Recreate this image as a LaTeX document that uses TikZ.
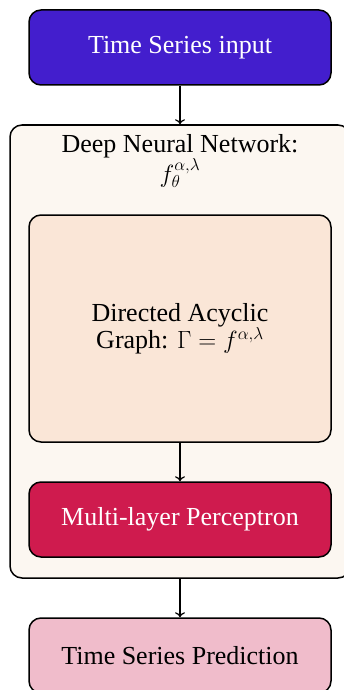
\documentclass[tikz,border=0pt]{standalone}
\usepackage{fontspec}
\setmainfont{Liberation Serif}
\usetikzlibrary{arrows.meta}
\definecolor{inblue}{RGB}{67,30,205}
\definecolor{outerbg}{RGB}{252,247,241}
\definecolor{dagbg}{RGB}{250,230,215}
\definecolor{mlpred}{RGB}{207,27,78}
\definecolor{predpink}{RGB}{240,188,203}
\tikzset{
  txt/.style={font=\fontsize{26}{27}\selectfont},
  box/.style={draw=black, line width=1.5pt, rounded corners=12pt, minimum width=302pt, align=center, txt, inner sep=0pt},
  conn/.style={line width=1.2pt, -{To[length=5pt,width=10pt]}}
}
\begin{document}
\begin{tikzpicture}[x=1pt,y=-1pt]
\useasboundingbox (0,0) rectangle (343,690);
\node[box, fill=outerbg, minimum width=340pt, minimum height=453pt] (outer) at (180,351.5) {};
\node[box, fill=inblue, text=white, minimum height=75pt] (in) at (180,47.5) {Time Series input};
\node[align=center, anchor=north, font=\fontsize{26}{29}\selectfont, inner sep=0pt] (title) at (180,134) {Deep Neural Network:\\ $f_{\theta}^{\alpha,\lambda}$};
\node[box, fill=dagbg, minimum height=227pt] (dag) at (180,328.5) {Directed Acyclic\\ Graph: $\Gamma = f^{\alpha,\lambda}$};
\node[box, fill=mlpred, text=white, minimum height=75pt] (mlp) at (180,519.5) {Multi-layer Perceptron};
\node[box, fill=predpink, minimum height=75pt] (pred) at (180,655.5) {Time Series Prediction};
\draw[conn] (in.south) -- (outer.north);
\draw[conn] (dag.south) -- (mlp.north);
\draw[conn] (outer.south) -- (pred.north);
\end{tikzpicture}
\end{document}
